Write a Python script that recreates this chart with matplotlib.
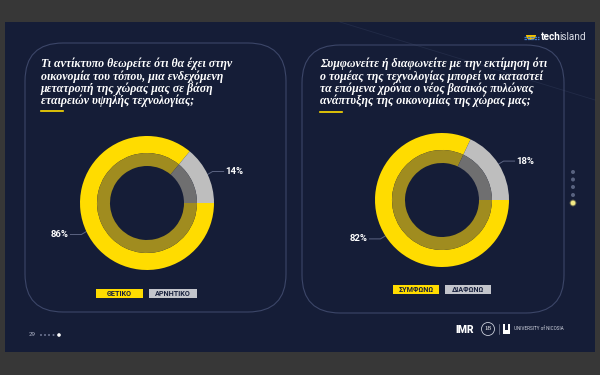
import numpy as np
import matplotlib
matplotlib.use("Agg")
import matplotlib.pyplot as plt
from matplotlib.patches import FancyBboxPatch, Rectangle, Circle, Wedge

# ---------------- data ----------------
title_1 = ["Τι αντίκτυπο θεωρείτε ότι θα έχει στην",
           "οικονομία του τόπου, μια ενδεχόμενη",
           "μετατροπή της χώρας μας σε βάση",
           "εταιρειών υψηλής τεχνολογίας;"]
categories_1 = ["ΘΕΤΙΚΟ", "ΑΡΝΗΤΙΚΟ"]
values_1 = [86, 14]

title_2 = ["Συμφωνείτε ή διαφωνείτε με την εκτίμηση ότι",
           "ο τομέας της τεχνολογίας μπορεί να καταστεί",
           "τα επόμενα χρόνια ο νέος βασικός πυλώνας",
           "ανάπτυξης της οικονομίας της χώρας μας;"]
categories_2 = ["ΣΥΜΦΩΝΩ", "ΔΙΑΦΩΝΩ"]
values_2 = [82, 18]

page_number = "29"

# ---------------- style ----------------
W, H = 600, 375
FRAME = "#373737"
NAVY = "#151d37"
YEL = "#FFDC00"
YEL_IN = "#A08C1F"
GRY = "#BEBEBE"
GRY_IN = "#6F6F70"
LEG_GRY = "#C3C5CC"
LEG_TXT = "#17203d"
EDGE = "#3c4668"

fig = plt.figure(figsize=(6, 3.75), dpi=100)
fig.patch.set_facecolor(FRAME)
bg = fig.add_axes([0, 0, 1, 1])
bg.set_xlim(0, W)
bg.set_ylim(H, 0)
bg.axis("off")

# slide
bg.add_patch(Rectangle((5, 22), 590, 330, facecolor=NAVY, edgecolor="none", zorder=0))
for i in range(8):
    bg.add_patch(Rectangle((5, 300 + i * 6.5), 590, 52 - i * 6.5, facecolor="#2a3a66",
                           edgecolor="none", alpha=0.018, zorder=0.1))
bg.plot([340, 595], [22, 100], color="#8090b8", lw=0.6, alpha=0.12, zorder=0.2)

# panels
for (x0, y0, x1, y1) in [(25, 43, 286, 312), (302, 45, 564, 313)]:
    bg.add_patch(FancyBboxPatch((x0, y0), x1 - x0, y1 - y0,
                                boxstyle="round,pad=0,rounding_size=38",
                                facecolor="none", edgecolor=EDGE, lw=0.8, zorder=1))

# titles
title_font = dict(family="Liberation Serif", weight="bold", style="italic",
                  color="white", fontsize=8.6)
line_y = [63.5, 76.5, 89.0, 101.0]
for txt, y in zip(title_1, line_y):
    bg.text(41, y, txt, ha="left", va="center", zorder=3, **title_font)
for txt, y in zip(title_2, line_y):
    bg.text(320, y, txt, ha="left", va="center", zorder=3, **title_font)
bg.plot([41, 63], [110.5, 110.5], color=YEL, lw=1.2, zorder=3)
bg.plot([320, 342], [112, 112], color=YEL, lw=1.2, zorder=3)


def donut(cx, cy, r, values):
    ax = fig.add_axes([(cx - r) / W, (H - cy - r) / H, 2 * r / W, 2 * r / H])
    ax.set_facecolor("none")
    outer_w = 17 / r
    inner_r = 50 / r
    inner_w = 13 / r
    wedges, _ = ax.pie(values, radius=1, colors=[YEL, GRY], startangle=0,
                       counterclock=False,
                       wedgeprops=dict(width=outer_w, edgecolor="none", linewidth=0))
    ax.pie(values, radius=inner_r, colors=[YEL_IN, GRY_IN], startangle=0,
           counterclock=False,
           wedgeprops=dict(width=inner_w, edgecolor="none", linewidth=0))
    ax.set_xlim(-1, 1)
    ax.set_ylim(-1, 1)
    ax.set_aspect("equal")
    ax.axis("off")
    for w, v in zip(wedges, values):
        mid = np.deg2rad((w.theta1 + w.theta2) / 2)
        px = cx + r * np.cos(mid)
        py = cy - r * np.sin(mid)
        side = 1 if np.cos(mid) > 0 else -1
        ex = px + side * 16
        ey = py + (-3 if side > 0 else 3)
        bg.plot([px, px + side * 5, ex], [py, ey, ey], color="#5b6482", lw=0.7, zorder=3)
        bg.text(ex + side * 2, ey, f"{v}%", ha="left" if side > 0 else "right",
                va="center", color="white", fontsize=6.8, family="Roboto",
                weight="bold", zorder=4)


donut(147, 203, 67, values_1)
donut(442, 200, 67, values_2)


def legend(x_start, y, cats, widths):
    x = x_start
    for cat, col, w in zip(cats, [YEL, LEG_GRY], widths):
        bg.add_patch(Rectangle((x, y), w, 9, facecolor=col, edgecolor="none", zorder=3))
        bg.text(x + w / 2, y + 4.8, cat, ha="center", va="center", color=LEG_TXT,
                fontsize=5.2, family="Roboto", weight="bold", zorder=4)
        x += w + 6


legend(96, 289, categories_1, [47, 48])
legend(393, 285, categories_2, [46, 46])

# right side navigation dots
for i, yy in enumerate([172, 179.5, 187, 195, 203]):
    if i < 4:
        bg.add_patch(Circle((573, yy), 2.0, facecolor="#58627f", edgecolor="none", zorder=3))
    else:
        bg.add_patch(Circle((573, yy), 3.4, facecolor="#f5eb7a", alpha=0.35, edgecolor="none", zorder=3))
        bg.add_patch(Circle((573, yy), 2.4, facecolor="#f3ea86", edgecolor="none", zorder=3))

# page number + dots bottom left
bg.text(29, 335, page_number, ha="left", va="center", color="#aab0c4", fontsize=4.5,
        family="Roboto", zorder=3)
for xx in [41, 45, 49, 53.5]:
    bg.add_patch(Circle((xx, 335), 1.0, facecolor="#6d7592", edgecolor="none", zorder=3))
bg.add_patch(Circle((59, 335), 1.8, facecolor="white", edgecolor="none", zorder=3))

# techisland logo
bg.add_patch(Wedge((531, 35), 5, 0, 180, facecolor="#f2c200", edgecolor="none", zorder=3))
for yy in [36.5, 38.5]:
    bg.plot([524, 539], [yy, yy], color="#3f78c8", lw=0.9, zorder=3, ls=(0, (2, 0.7)))
t_tech = bg.text(541, 37.5, "tech", ha="left", va="center", color="white", fontsize=7.2,
                 family="Roboto", weight="bold", zorder=3)
fig.canvas.draw()
bb = t_tech.get_window_extent(fig.canvas.get_renderer())
x_island = bb.x1 / fig.dpi * 100 - 1.8
bg.text(x_island, 37.5, "island", ha="left", va="center", color="#d8dbe4", fontsize=7.2,
        family="Roboto", zorder=3)

# bottom right logos
bg.text(455, 330, "IMR", ha="left", va="center", color="white", fontsize=7.5,
        family="Roboto", weight="black", zorder=3)
bg.add_patch(Circle((488, 329), 6.5, facecolor="none", edgecolor="#c8ccd8", lw=0.6, zorder=3))
bg.text(488, 328.5, "18", ha="center", va="center", color="white", fontsize=5,
        family="Liberation Serif", zorder=3)
bg.plot([499, 499], [324, 334], color="#9aa0b5", lw=0.4, zorder=3)
bg.add_patch(Rectangle((502.5, 323.5), 7, 10, facecolor="white", edgecolor="none", zorder=3))
bg.add_patch(Rectangle((504.5, 323.5), 3, 6, facecolor=NAVY, edgecolor="none", zorder=3))
bg.text(514, 329, "UNIVERSITY of NICOSIA", ha="left", va="center", color="#d0d4e0",
        fontsize=3.3, family="Roboto", zorder=3)

fig.savefig("out.png", dpi=100, facecolor=FRAME)
